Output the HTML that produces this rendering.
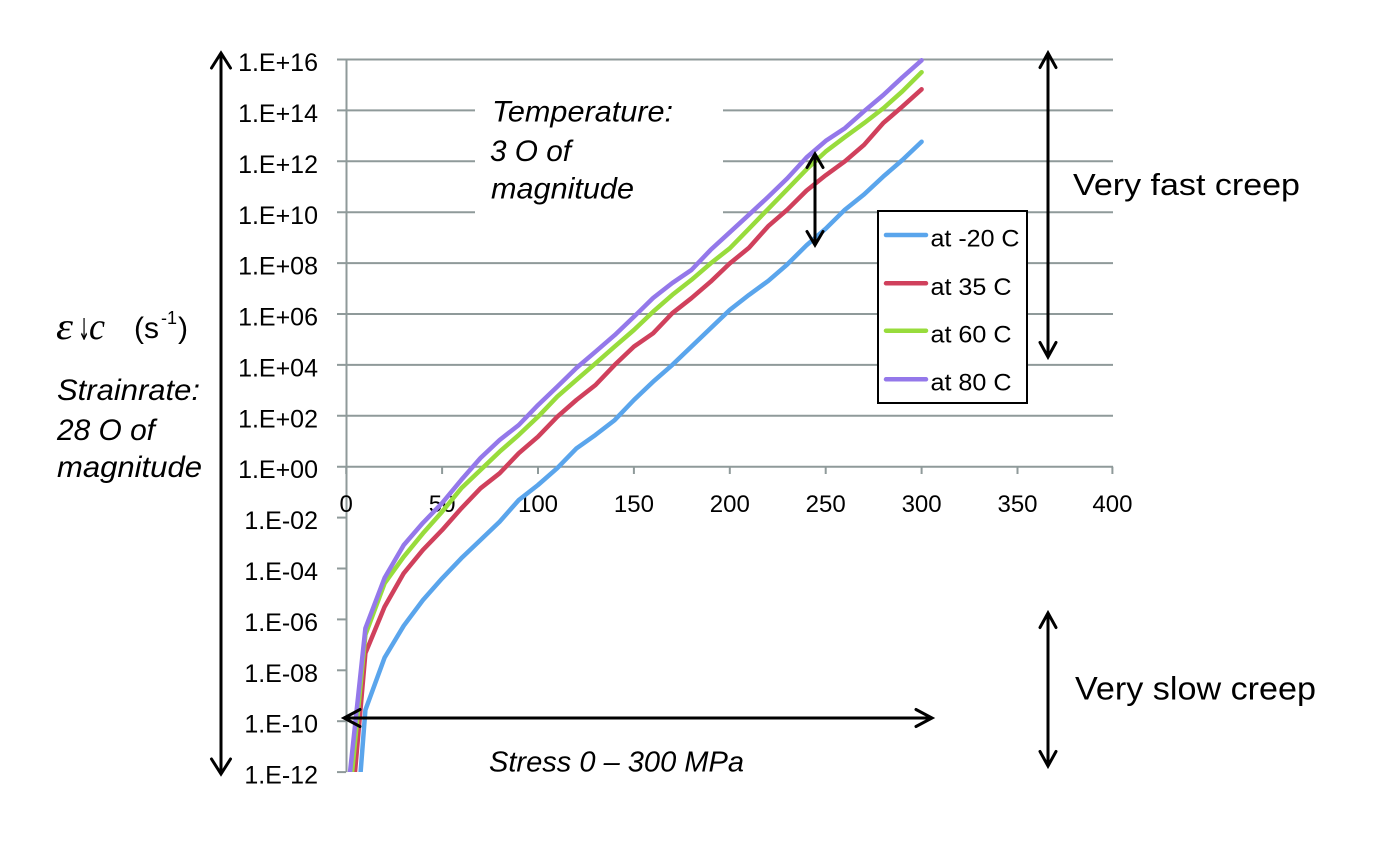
<!DOCTYPE html>
<html>
<head>
<meta charset="utf-8">
<style>
  html, body { margin:0; padding:0; background:#fff; }
  svg { display:block; }
  .t { font-family:"Liberation Sans", sans-serif; fill:#000; }
  .i { font-family:"Liberation Sans", sans-serif; font-style:italic; fill:#000; }
</style>
</head>
<body>
<svg width="1374" height="845" viewBox="0 0 1374 845" xmlns="http://www.w3.org/2000/svg">
  <rect x="0" y="0" width="1374" height="845" fill="#fff"/>
  <defs>
    <clipPath id="plot"><rect x="340" y="40" width="790" height="732"/></clipPath>
  </defs>

  <!-- gridlines -->
  <g stroke="#8f9a9a" stroke-width="2" fill="none">
    <line x1="337" y1="59.5" x2="1113" y2="59.5"/>
    <line x1="337" y1="110.4" x2="1113" y2="110.4"/>
    <line x1="337" y1="161.3" x2="1113" y2="161.3"/>
    <line x1="337" y1="212.2" x2="1113" y2="212.2"/>
    <line x1="337" y1="263.1" x2="1113" y2="263.1"/>
    <line x1="337" y1="314.0" x2="1113" y2="314.0"/>
    <line x1="337" y1="364.9" x2="1113" y2="364.9"/>
    <line x1="337" y1="415.8" x2="1113" y2="415.8"/>
    <line x1="337" y1="466.7" x2="1113" y2="466.7"/>
    <line x1="337" y1="517.6" x2="346" y2="517.6"/>
    <line x1="337" y1="568.5" x2="346" y2="568.5"/>
    <line x1="337" y1="619.4" x2="346" y2="619.4"/>
    <line x1="337" y1="670.3" x2="346" y2="670.3"/>
    <line x1="337" y1="721.2" x2="346" y2="721.2"/>
    <line x1="337" y1="772.1" x2="346" y2="772.1"/>
    <line x1="346.5" y1="59.5" x2="346.5" y2="772.1"/>
    <line x1="346.2" y1="466.7" x2="346.2" y2="474"/>
    <line x1="442.1" y1="466.7" x2="442.1" y2="474"/>
    <line x1="538.0" y1="466.7" x2="538.0" y2="474"/>
    <line x1="633.9" y1="466.7" x2="633.9" y2="474"/>
    <line x1="729.8" y1="466.7" x2="729.8" y2="474"/>
    <line x1="825.7" y1="466.7" x2="825.7" y2="474"/>
    <line x1="921.6" y1="466.7" x2="921.6" y2="474"/>
    <line x1="1017.5" y1="466.7" x2="1017.5" y2="474"/>
    <line x1="1112.4" y1="466.7" x2="1112.4" y2="474"/>
  </g>

  <rect x="475" y="80" width="248" height="150" fill="#fff"/>

  <!-- y labels -->
  <g class="t" font-size="25" text-anchor="end">
    <text x="318" y="71">1.E+16</text>
    <text x="318" y="122">1.E+14</text>
    <text x="318" y="173">1.E+12</text>
    <text x="318" y="224">1.E+10</text>
    <text x="318" y="274.6">1.E+08</text>
    <text x="318" y="325.5">1.E+06</text>
    <text x="318" y="376.4">1.E+04</text>
    <text x="318" y="427.3">1.E+02</text>
    <text x="318" y="478.2">1.E+00</text>
    <text x="318" y="529.1">1.E-02</text>
    <text x="318" y="580">1.E-04</text>
    <text x="318" y="630.9">1.E-06</text>
    <text x="318" y="681.8">1.E-08</text>
    <text x="318" y="732.7">1.E-10</text>
    <text x="318" y="783.6">1.E-12</text>
  </g>

  <!-- x labels -->
  <g class="t" font-size="24" text-anchor="middle">
    <text x="346.2" y="512">0</text>
    <text x="442.1" y="512">50</text>
    <text x="538.0" y="512">100</text>
    <text x="633.9" y="512">150</text>
    <text x="729.8" y="512">200</text>
    <text x="825.7" y="512">250</text>
    <text x="921.6" y="512">300</text>
    <text x="1017.5" y="512">350</text>
    <text x="1112.4" y="512">400</text>
  </g>

  <!-- curves -->
  <g clip-path="url(#plot)" fill="none" stroke-width="4.5" stroke-linejoin="round" stroke-linecap="round">
    <polyline stroke="#5aa5ec" points="360,780 365.4,710.0 384.6,657.6 403.7,625.8 422.9,600.1 442.1,578.4 461.3,558.3 480.5,540.0 499.6,521.7 518.8,500.0 538.0,485.0 557.2,468.2 576.4,448.4 595.5,434.9 614.7,420.1 633.9,400.0 653.1,381.7 672.3,364.9 691.4,346.6 710.6,328.3 729.8,309.9 749.0,294.9 768.2,280.9 787.3,264.4 806.5,245.3 825.7,228.7 844.9,209.7 864.1,194.4 883.2,176.6 902.4,160.0 921.6,141.7"/>
    <polyline stroke="#d0405c" points="354.3,780 365.4,653.2 384.6,606.7 403.7,573.3 422.9,549.9 442.1,530.1 461.3,508.4 480.5,488.3 499.6,473.3 518.8,453.2 538.0,436.7 557.2,416.8 576.4,400.0 595.5,385.0 614.7,364.9 633.9,346.6 653.1,333.3 672.3,313.2 691.4,298.2 710.6,281.7 729.8,263.4 749.0,247.8 768.2,226.2 787.3,209.7 806.5,190.6 825.7,175.3 844.9,161.3 864.1,144.8 883.2,123.1 902.4,106.6 921.6,89.3"/>
    <polyline stroke="#98dc3c" points="351.3,780 365.4,634.7 384.6,583.3 403.7,556.8 422.9,533.4 442.1,511.7 461.3,488.3 480.5,470.0 499.6,451.7 518.8,434.9 538.0,416.8 557.2,396.7 576.4,379.9 595.5,363.4 614.7,346.6 633.9,330.0 653.1,311.7 672.3,294.9 691.4,279.9 710.6,263.4 729.8,248.3 749.0,228.7 768.2,208.9 787.3,189.3 806.5,169.4 825.7,151.6 844.9,137.1 864.1,123.1 883.2,108.4 902.4,91.3 921.6,72.2"/>
    <polyline stroke="#9478ea" points="349.2,780 365.4,628.3 384.6,577.9 403.7,545.1 422.9,522.9 442.1,503.1 461.3,479.9 480.5,458.0 499.6,440.0 518.8,425.0 538.0,405.1 557.2,386.8 576.4,368.0 595.5,351.7 614.7,335.1 633.9,316.8 653.1,298.0 672.3,283.0 691.4,270.0 710.6,249.9 729.8,232.3 749.0,214.7 768.2,196.9 787.3,178.4 806.5,157.5 825.7,140.9 844.9,128.2 864.1,111.2 883.2,95.1 902.4,77.3 921.6,60.3"/>
  </g>

  <!-- legend -->
  <rect x="878" y="211" width="149" height="192" fill="#fff" stroke="#000" stroke-width="2"/>
  <g stroke-width="4.5" stroke-linecap="round">
    <line x1="886" y1="235" x2="926" y2="235" stroke="#5aa5ec"/>
    <line x1="886" y1="283.3" x2="926" y2="283.3" stroke="#d0405c"/>
    <line x1="886" y1="330.7" x2="926" y2="330.7" stroke="#98dc3c"/>
    <line x1="886" y1="379.3" x2="926" y2="379.3" stroke="#9478ea"/>
  </g>
  <g class="t" font-size="24">
    <text x="930.5" y="246.7" textLength="89" lengthAdjust="spacingAndGlyphs">at -20 C</text>
    <text x="930.5" y="295" textLength="81" lengthAdjust="spacingAndGlyphs">at 35 C</text>
    <text x="930.5" y="342.7" textLength="81" lengthAdjust="spacingAndGlyphs">at 60 C</text>
    <text x="930.5" y="390.7" textLength="81" lengthAdjust="spacingAndGlyphs">at 80 C</text>
  </g>

  <!-- arrows -->
  <g stroke="#000" stroke-width="3" fill="none" stroke-linecap="round" stroke-linejoin="miter">
    <line x1="221" y1="54" x2="221" y2="773"/>
    <polyline points="211.5,68 221,53 230.5,68"/>
    <polyline points="211.5,759 221,774 230.5,759"/>
    <line x1="345" y1="718" x2="931" y2="718"/>
    <polyline points="360,709.5 344,718 360,726.5"/>
    <polyline points="916,709.5 932,718 916,726.5"/>
    <line x1="815" y1="155" x2="815" y2="244"/>
    <polyline points="807,167.5 815,154 823,167.5"/>
    <polyline points="807,231.5 815,245 823,231.5"/>
    <line x1="1048" y1="54" x2="1048" y2="356"/>
    <polyline points="1040,67.5 1048,53 1056,67.5"/>
    <polyline points="1040,342.5 1048,357 1056,342.5"/>
    <line x1="1048" y1="614" x2="1048" y2="765"/>
    <polyline points="1040,627.5 1048,613 1056,627.5"/>
    <polyline points="1040,751.5 1048,766 1056,751.5"/>
  </g>

  <!-- annotation texts -->
  <g class="i" font-size="30">
    <text x="492" y="121.7" textLength="181" lengthAdjust="spacingAndGlyphs">Temperature:</text>
    <text x="490" y="161" textLength="81" lengthAdjust="spacingAndGlyphs">3 O of</text>
    <text x="491" y="198.5" textLength="143" lengthAdjust="spacingAndGlyphs">magnitude</text>
    <text x="57" y="400" textLength="143" lengthAdjust="spacingAndGlyphs">Strainrate:</text>
    <text x="57" y="440" textLength="98" lengthAdjust="spacingAndGlyphs">28 O of</text>
    <text x="57" y="477" textLength="145" lengthAdjust="spacingAndGlyphs">magnitude</text>
    <text x="489" y="771.7" font-size="29" textLength="255" lengthAdjust="spacingAndGlyphs">Stress 0 – 300 MPa</text>
  </g>

  <g class="t">
    <text x="1073" y="195" font-size="31" textLength="227" lengthAdjust="spacingAndGlyphs">Very fast creep</text>
    <text x="1075" y="699.5" font-size="32" textLength="241" lengthAdjust="spacingAndGlyphs">Very slow creep</text>
  </g>

  <!-- epsilon label -->
  <text x="56" y="339" font-family="'Liberation Serif', serif" font-style="italic" font-size="38" textLength="17" lengthAdjust="spacingAndGlyphs">ε</text>
  <text x="78" y="340" font-family="'DejaVu Sans', sans-serif" font-size="30" textLength="12" lengthAdjust="spacingAndGlyphs">↓</text>
  <text x="89" y="339" font-family="'Liberation Serif', serif" font-style="italic" font-size="38" textLength="16" lengthAdjust="spacingAndGlyphs">c</text>
  <text x="134" y="338" class="t" font-size="30">(s</text>
  <text x="161" y="324" class="t" font-size="18">-1</text>
  <text x="178" y="338" class="t" font-size="30">)</text>
</svg>
</body>
</html>
